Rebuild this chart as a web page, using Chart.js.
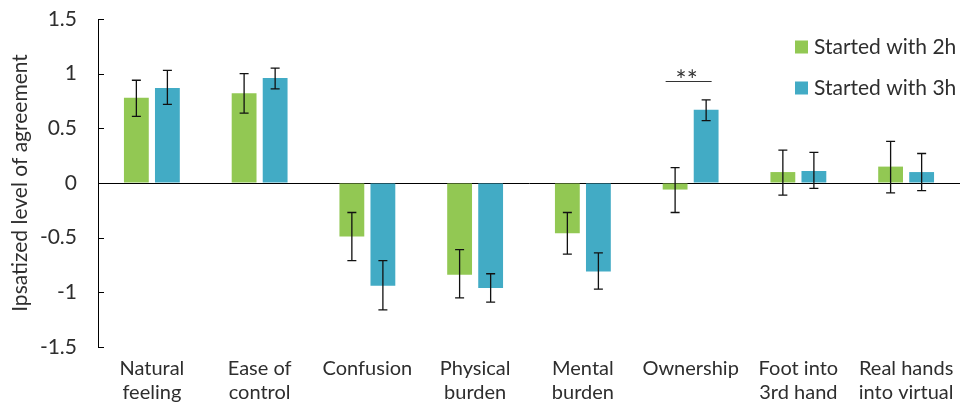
<!DOCTYPE html>
<html>
<head>
<meta charset="utf-8">
<script src="https://cdn.jsdelivr.net/npm/chart.js@4/dist/chart.umd.min.js"></script>
<style>
  html, body { margin: 0; padding: 0; background: #fff; }
  #wrap { width: 964px; height: 405px; }
</style>
</head>
<body>
<div id="wrap"><canvas id="chart"></canvas></div>
<script>
/* global document, Chart */
// Data
const categories = [
  ["Natural", "feeling"], ["Ease of", "control"], "Confusion", ["Physical", "burden"],
  ["Mental", "burden"], "Ownership", ["Foot into", "3rd hand"], ["Real hands", "into virtual"]
];
const seriesNames = ["Started with 2h", "Started with 3h"];
const started2h = [0.78, 0.82, -0.49, -0.84, -0.46, -0.06, 0.10, 0.15];
const started2hLow = [0.61, 0.64, -0.71, -1.05, -0.65, -0.27, -0.11, -0.09];
const started2hHigh = [0.94, 1.00, -0.27, -0.61, -0.27, 0.14, 0.30, 0.38];
const started3h = [0.87, 0.96, -0.94, -0.96, -0.81, 0.67, 0.11, 0.10];
const started3hLow = [0.72, 0.86, -1.16, -1.09, -0.97, 0.57, -0.05, -0.07];
const started3hHigh = [1.03, 1.05, -0.71, -0.83, -0.64, 0.76, 0.28, 0.27];
const yTicks = [-1.5, -1, -0.5, 0, 0.5, 1, 1.5];
const significance = {index: 5, value: 0.93, label: "**"};

// Colors
const green = "#92C853";
const blue = "#42ABC5";
const textColor = "#2e2e2e";
const fontFamily = "Lato, 'Open Sans', sans-serif";

Chart.defaults.font.family = fontFamily;
Chart.defaults.color = textColor;

// Error bars, inside y ticks, legend and significance marker
const extras = {
  id: "extras",
  afterDatasetsDraw(chart) {
    const {ctx, scales: {x, y}, chartArea} = chart;
    const bounds = [[started2hLow, started2hHigh], [started3hLow, started3hHigh]];
    ctx.save();
    ctx.strokeStyle = "#111";
    ctx.lineWidth = 1.3;
    chart.data.datasets.forEach((ds, di) => {
      chart.getDatasetMeta(di).data.forEach((bar, i) => {
        const lo = y.getPixelForValue(bounds[di][0][i]);
        const hi = y.getPixelForValue(bounds[di][1][i]);
        ctx.beginPath();
        ctx.moveTo(bar.x, lo); ctx.lineTo(bar.x, hi);
        ctx.moveTo(bar.x - 4.5, lo); ctx.lineTo(bar.x + 4.5, lo);
        ctx.moveTo(bar.x - 4.5, hi); ctx.lineTo(bar.x + 4.5, hi);
        ctx.stroke();
      });
    });

    // inside tick marks on y axis
    ctx.strokeStyle = "#000";
    ctx.lineWidth = 1;
    yTicks.forEach(v => {
      const py = Math.round(y.getPixelForValue(v)) + 0.5;
      ctx.beginPath();
      ctx.moveTo(chartArea.left, py);
      ctx.lineTo(chartArea.left + 6, py);
      ctx.stroke();
    });

    // significance line
    const cx = x.getPixelForValue(significance.index);
    const sy = Math.round(y.getPixelForValue(significance.value)) + 0.5;
    ctx.strokeStyle = "#333";
    ctx.beginPath();
    ctx.moveTo(cx - 25, sy); ctx.lineTo(cx + 21, sy);
    ctx.stroke();
    ctx.fillStyle = "#333";
    ctx.font = "26px " + fontFamily;
    ctx.textAlign = "center";
    ctx.textBaseline = "alphabetic";
    ctx.fillText(significance.label, cx - 4, sy + 8);

    // legend
    const lx = chartArea.right - 165;
    let ly = chartArea.top + 28;
    ctx.font = "21px " + fontFamily;
    ctx.textAlign = "left";
    ctx.textBaseline = "middle";
    chart.data.datasets.forEach(ds => {
      ctx.fillStyle = ds.backgroundColor;
      ctx.fillRect(lx, ly - 6.5, 13, 13);
      ctx.fillStyle = textColor;
      ctx.fillText(ds.label, lx + 19, ly);
      ly += 41;
    });
    ctx.restore();
  }
};

new Chart(document.getElementById("chart"), {
  type: "bar",
  data: {
    labels: categories,
    datasets: [
      {label: seriesNames[0], data: started2h, backgroundColor: green},
      {label: seriesNames[1], data: started3h, backgroundColor: blue}
    ]
  },
  options: {
    responsive: true,
    maintainAspectRatio: false,
    animation: false,
    categoryPercentage: 0.576,
    barPercentage: 0.8,
    layout: {padding: {top: 19, right: 4, bottom: 0, left: 8}},
    plugins: {
      legend: {display: false},
      tooltip: {enabled: false}
    },
    scales: {
      x: {
        afterFit: scale => {
          scale.height = 58;
        },
        grid: {display: false, drawTicks: false},
        border: {display: false},
        ticks: {
          font: {size: 20, lineHeight: 1.2},
          color: textColor,
          padding: 10,
          maxRotation: 0,
          autoSkip: false
        }
      },
      y: {
        min: -1.5,
        max: 1.5,
        afterBuildTicks: scale => {
          scale.ticks = yTicks.map(value => ({value}));
        },
        afterFit: scale => {
          scale.width = 90;
          scale.paddingTop = 0;
          scale.paddingBottom = 0;
        },
        grid: {
          drawTicks: false,
          color: c => c.tick && c.tick.value === 0 ? "#000" : "transparent",
          lineWidth: 1
        },
        border: {display: true, color: "#000", width: 1},
        ticks: {
          font: {size: 21},
          color: textColor,
          padding: 21,
          callback: value => String(value)
        },
        title: {
          display: true,
          text: "Ipsatized level of agreement",
          font: {size: 21},
          color: textColor,
          padding: {top: 0, bottom: 6}
        }
      }
    }
  },
  plugins: [extras]
});
</script>
</body>
</html>
